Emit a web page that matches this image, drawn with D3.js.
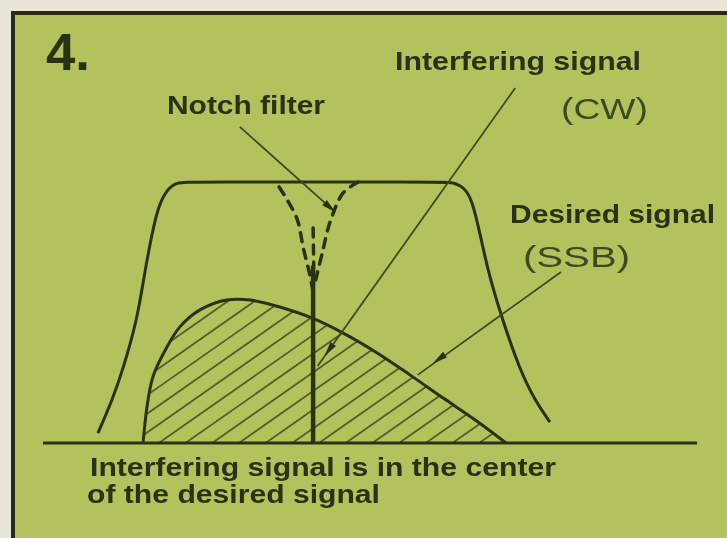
<!DOCTYPE html>
<html>
<head>
<meta charset="utf-8">
<script src="https://cdn.jsdelivr.net/npm/d3@7/dist/d3.min.js"></script>
<style>
  html, body { margin: 0; padding: 0; background: #e8e5d6; }
  svg { display: block; }
  text { font-family: "Liberation Sans", Arial, Helvetica, sans-serif; }
</style>
</head>
<body>
<svg id="chart" width="727" height="538"></svg>
<script>
// ---- data (arbitrary frequency units 0..100, relative amplitude 0..100) ----
const filterFreq = [8.4, 10.6, 12.2, 14.4, 15.6, 16.7, 17.6, 18.9, 20.4, 22.5, 60.8, 62.7, 64.5, 65.6, 66.8, 68.0, 69.9, 72.9, 75.2, 77.5];
const filterAmp  = [3.8, 16.5, 28.0, 47.1, 66.3, 80.5, 90.4, 97.0, 100, 100, 100, 100, 97.7, 93.1, 80.5, 66.3, 49.8, 28.0, 16.5, 8.0];

const ssbFreq = [15.3, 15.9, 16.8, 18.7, 20.9, 24.0, 28.1, 31.7, 36.2, 41.1, 45.9, 51.1, 56.1, 61.2, 66.1, 70.8];
const ssbAmp  = [0, 13.8, 25.3, 35.6, 44.4, 51.0, 54.8, 54.8, 52.1, 47.9, 42.1, 34.5, 26.1, 17.2, 8.8, 0];

const cwFreq = [41.3, 41.3];
const cwAmp  = [0, 68];

const notchLeftFreq  = [36.1, 38.8, 39.8, 40.8, 41.3];
const notchLeftAmp   = [98.1, 86.2, 74.7, 64.4, 57.9];
const notchRightFreq = [48.2, 45.9, 43.9, 42.7, 41.7];
const notchRightAmp  = [100, 95.8, 84.7, 72.8, 62.5];
const notchMidFreq   = [41.3, 41.4];
const notchMidAmp    = [82.4, 68.2];

const axisFreq = [0, 100];

// pointer lines
const pointerNames = ["Notch filter", "Interfering signal (CW)", "Desired signal (SSB)"];
const pointerFrom  = [[30.1, 121.1], [72.2, 136.0], [79.2, 65.5]];
const pointerTo    = [[44.3, 89.3], [42.0, 29.5], [57.3, 26.1]];
const pointerHead  = [[44.3, 89.3], [43.4, 34.5], [60.1, 31.4]];

const labelTexts = ["4.", "Notch filter", "Interfering signal", "(CW)", "Desired signal", "(SSB)",
                    "Interfering signal is in the center", "of the desired signal"];

// ---- layout ----
const W = 727, H = 538;
const x = d3.scaleLinear().domain([0, 100]).range([43, 697]);
const y = d3.scaleLinear().domain([0, 100]).range([443, 182]);

const labelLayout = [
  {x: 46,  y: 70,  size: 52, weight: "bold",   len: 44},
  {x: 167, y: 114, size: 26, weight: "bold",   len: 158},
  {x: 395, y: 70,  size: 26, weight: "bold",   len: 246},
  {x: 561, y: 119, size: 30, weight: "normal", len: 87},
  {x: 510, y: 223, size: 26, weight: "bold",   len: 205},
  {x: 523, y: 267, size: 30, weight: "normal", len: 107},
  {x: 90,  y: 476, size: 25, weight: "bold",   len: 466},
  {x: 87,  y: 503, size: 25, weight: "bold",   len: 293}
];

const bg = "#b4c25d", ink = "#2a3217", inkSoft = "#3e4a22", hatch = "#4f5e2c";

const svg = d3.select("#chart");
const defs = svg.append("defs");
defs.append("filter").attr("id", "soft")
  .append("feGaussianBlur").attr("stdDeviation", 0.55);

// frame
svg.append("rect").attr("x", 13).attr("y", 13).attr("width", W + 20).attr("height", H + 20)
  .attr("fill", bg).attr("stroke", "#262b1a").attr("stroke-width", 4);

const g = svg.append("g").attr("filter", "url(#soft)");

const zip = (a, b) => a.map((v, i) => [v, b[i]]);
const smooth = d3.line().x(d => x(d[0])).y(d => y(d[1])).curve(d3.curveCatmullRom.alpha(0.5));
const basis  = d3.line().x(d => x(d[0])).y(d => y(d[1])).curve(d3.curveBasis);

// SSB hatched area
const ssbPts = zip(ssbFreq, ssbAmp);
const ssbPath = smooth(ssbPts);
defs.append("clipPath").attr("id", "ssbClip").append("path").attr("d", ssbPath + "Z");
const hatchG = g.append("g").attr("clip-path", "url(#ssbClip)");
const slope = 0.70, step = 26.7, phase = x(42.2);
const hatchIdx = d3.range(-25, 20);
hatchG.selectAll("line").data(hatchIdx).join("line")
  .attr("x1", k => phase + k * step).attr("y1", y(0))
  .attr("x2", k => phase + k * step + 400).attr("y2", y(0) - 400 * slope)
  .attr("stroke", hatch).attr("stroke-width", 1.8);

// SSB curve
g.append("path").attr("d", ssbPath)
  .attr("fill", "none").attr("stroke", ink).attr("stroke-width", 3);

// filter passband
const filterPts = zip(filterFreq, filterAmp);
g.append("path").attr("d", basis(filterPts))
  .attr("fill", "none").attr("stroke", ink).attr("stroke-width", 3);

// baseline
g.append("line").attr("x1", x(axisFreq[0])).attr("x2", x(axisFreq[1]))
  .attr("y1", y(0)).attr("y2", y(0)).attr("stroke", ink).attr("stroke-width", 3);

// CW signal
g.append("line").attr("x1", x(cwFreq[0])).attr("x2", x(cwFreq[1]))
  .attr("y1", y(cwAmp[0])).attr("y2", y(cwAmp[1])).attr("stroke", ink).attr("stroke-width", 4.5);

// notch (dashed)
[[notchLeftFreq, notchLeftAmp], [notchRightFreq, notchRightAmp], [notchMidFreq, notchMidAmp]].forEach(([f, a]) => {
  g.append("path").attr("d", smooth(zip(f, a)))
    .attr("fill", "none").attr("stroke", ink).attr("stroke-width", 3.5)
    .attr("stroke-dasharray", "9,8").attr("stroke-linecap", "round");
});

// pointers
pointerNames.forEach((name, i) => {
  const [fx, fy] = pointerFrom[i], [tx, ty] = pointerTo[i], [hx, hy] = pointerHead[i];
  const x1 = x(fx), y1 = y(fy), x2 = x(tx), y2 = y(ty);
  g.append("line").attr("x1", x1).attr("y1", y1).attr("x2", x2).attr("y2", y2)
    .attr("stroke", inkSoft).attr("stroke-width", 1.8);
  const ang = Math.atan2(y2 - y1, x2 - x1) * 180 / Math.PI;
  g.append("path").attr("d", "M4,0 L-11,-3.4 L-11,3.4 Z")
    .attr("transform", `translate(${x(hx)},${y(hy)}) rotate(${ang})`)
    .attr("fill", ink);
});

// labels
g.selectAll("text.lbl").data(labelTexts).join("text").attr("class", "lbl")
  .attr("x", (d, i) => labelLayout[i].x).attr("y", (d, i) => labelLayout[i].y)
  .attr("font-size", (d, i) => labelLayout[i].size)
  .attr("font-weight", (d, i) => labelLayout[i].weight)
  .attr("textLength", (d, i) => labelLayout[i].len)
  .attr("lengthAdjust", "spacingAndGlyphs")
  .attr("fill", (d, i) => labelLayout[i].weight === "bold" ? ink : inkSoft)
  .text(d => d);
</script>
</body>
</html>
